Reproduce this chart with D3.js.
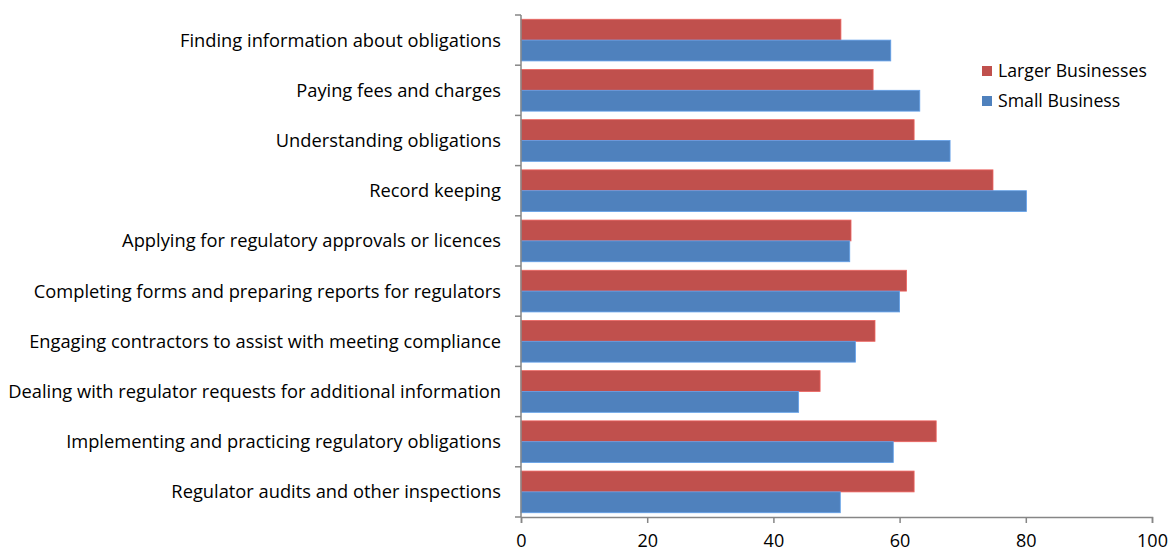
<!DOCTYPE html>
<html>
<head>
<meta charset="utf-8">
<script src="https://cdn.jsdelivr.net/npm/d3@7"></script>
<style>
  body { margin: 0; background: #fff; }
  text { font-family: "Open Sans", Lato, sans-serif; fill: #000; }
</style>
</head>
<body>
<div id="chart"></div>
<script>
// Data
const categories = [
    'Finding information about obligations',
    'Paying fees and charges',
    'Understanding obligations',
    'Record keeping',
    'Applying for regulatory approvals or licences',
    'Completing forms and preparing reports for regulators',
    'Engaging contractors to assist with meeting compliance',
    'Dealing with regulator requests for additional information',
    'Implementing and practicing regulatory obligations',
    'Regulator audits and other inspections'
];
const seriesNames = ['Larger Businesses', 'Small Business'];
const largerValues = [50.7, 55.8, 62.3, 74.8, 52.3, 61.1, 56.1, 47.4, 65.8, 62.3];
const smallValues = [58.6, 63.2, 68.0, 80.1, 52.1, 60.0, 53.0, 44.0, 59.0, 50.6];
const xTicks = [0, 20, 40, 60, 80, 100];
const colors = ['#C0504D', '#4F81BD'];

function renderChart() {
    const width = 1173, height = 552;
    const margin = { top: 15, right: 21, bottom: 35, left: 521 };
    const innerW = width - margin.left - margin.right;
    const innerH = height - margin.top - margin.bottom;
    const font = '"Open Sans", Lato, sans-serif';

    const svg = d3.select('#chart')
        .append('svg')
        .attr('width', width)
        .attr('height', height);

    const g = svg.append('g')
        .attr('transform', `translate(${margin.left},${margin.top})`);

    const x = d3.scaleLinear().domain([0, 100]).range([0, innerW]);
    const y = d3.scaleBand().domain(categories).range([0, innerH]).paddingInner(0.17).paddingOuter(0.085);
    const ySub = d3.scaleBand().domain(seriesNames).range([0, y.bandwidth()]);

    const rows = categories.map((c, i) => ({ cat: c, values: [largerValues[i], smallValues[i]] }));

    const rowG = g.selectAll('.row')
        .data(rows)
        .enter().append('g')
        .attr('class', 'row')
        .attr('transform', d => `translate(0,${y(d.cat)})`);

    rowG.selectAll('rect')
        .data(d => d.values.map((v, j) => ({ name: seriesNames[j], value: v, j })))
        .enter().append('rect')
        .attr('x', 0)
        .attr('y', d => ySub(d.name))
        .attr('width', d => x(d.value))
        .attr('height', ySub.bandwidth())
        .attr('fill', d => colors[d.j])
        .attr('stroke', d => d3.color(colors[d.j]).brighter(0.6))
        .attr('stroke-width', 0.8);

    // Left axis: ticks between categories
    const axisColor = '#868686';
    const yBound = d3.scaleLinear().domain([0, categories.length]).range([0, innerH]);
    const yLeft = g.append('g');
    yLeft.append('line')
        .attr('x1', 0).attr('x2', 0).attr('y1', 0).attr('y2', innerH)
        .attr('stroke', axisColor).attr('stroke-width', 1.5);
    yLeft.selectAll('.ytick')
        .data(d3.range(categories.length + 1))
        .enter().append('line')
        .attr('x1', -6).attr('x2', 0)
        .attr('y1', d => yBound(d)).attr('y2', d => yBound(d))
        .attr('stroke', axisColor).attr('stroke-width', 1.5);
    yLeft.selectAll('.ylabel')
        .data(categories)
        .enter().append('text')
        .attr('x', -20)
        .attr('y', d => y(d) + y.bandwidth() / 2)
        .attr('dy', '0.35em')
        .style('text-anchor', 'end')
        .style('font-size', '18.3px')
        .text(d => d);

    // Bottom axis
    const xAxis = g.append('g')
        .attr('transform', `translate(0,${innerH})`)
        .call(d3.axisBottom(x).tickValues(xTicks).tickSize(6).tickPadding(11));
    xAxis.select('.domain').attr('stroke', axisColor).attr('stroke-width', 1.5);
    xAxis.selectAll('.tick line').attr('stroke', axisColor).attr('stroke-width', 1.5);
    xAxis.selectAll('.tick text')
        .style('font-size', '18px')
        .style('font-family', font)
        .attr('fill', '#000');

    // Legend
    const legend = svg.append('g').attr('transform', 'translate(982,66)');
    seriesNames.forEach((name, i) => {
        const item = legend.append('g').attr('transform', `translate(0,${i * 30})`);
        item.append('rect').attr('width', 10).attr('height', 10).attr('fill', colors[i]);
        item.append('text')
            .attr('x', 16).attr('y', 5).attr('dy', '0.35em')
            .style('font-size', '17.7px')
            .text(name);
    });
}

renderChart();
</script>
</body>
</html>
